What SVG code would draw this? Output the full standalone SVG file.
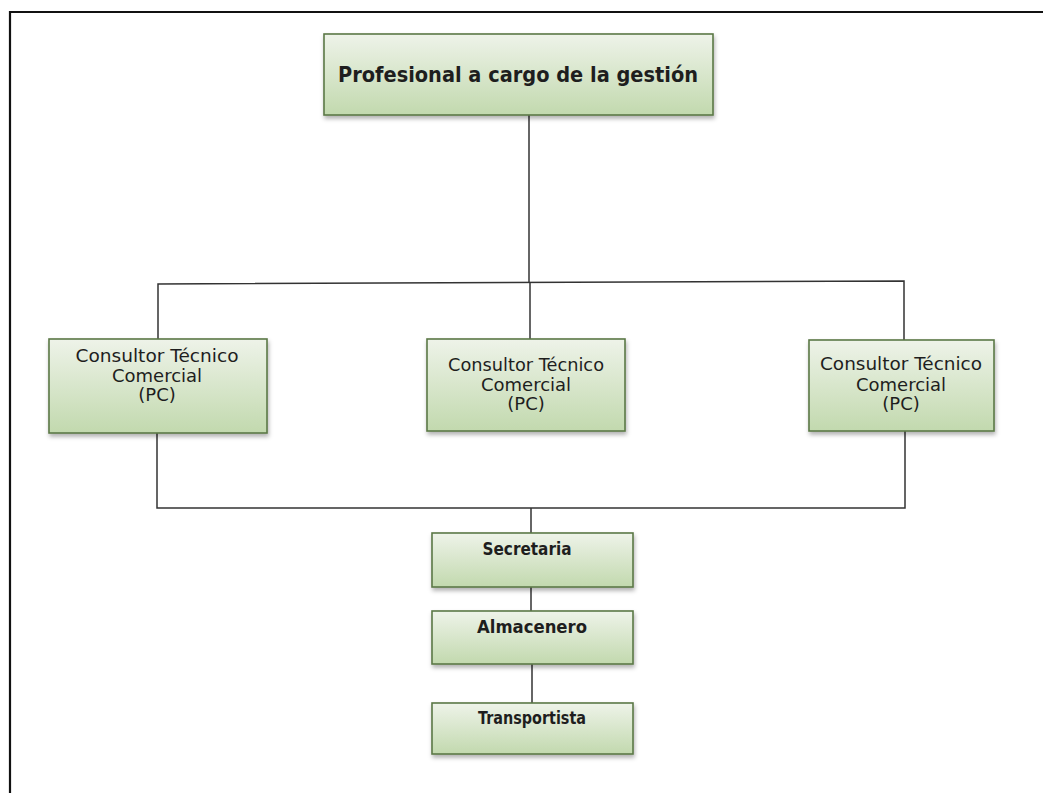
<svg xmlns="http://www.w3.org/2000/svg" width="1043" height="793" viewBox="0 0 1043 793">
  <defs>
    <linearGradient id="g" x1="0" y1="0" x2="0" y2="1">
      <stop offset="0" stop-color="#eef3e9"/>
      <stop offset="1" stop-color="#c2d9ae"/>
    </linearGradient>
    <filter id="sh" x="-10%" y="-10%" width="120%" height="130%">
      <feDropShadow dx="1" dy="3" stdDeviation="2" flood-color="#000" flood-opacity="0.3"/>
    </filter>
  </defs>
  <style>
    .box{fill:url(#g);stroke:#5b7846;stroke-width:1.6;filter:url(#sh)}
    .conn{fill:none;stroke:#333;stroke-width:1.5}
    .t{font-family:"DejaVu Sans","Liberation Sans",sans-serif;fill:#1e1e1e;text-anchor:middle}
    .b{font-weight:bold}
    .r{font-size:18px}
  </style>
  <rect x="0" y="0" width="1043" height="793" fill="#fff"/>
  <path d="M10 793 V12 H1043" fill="none" stroke="#111" stroke-width="2.2"/>

  <g id="connectors">
    <path class="conn" d="M529 115 V283"/>
    <path class="conn" d="M158 339 V284 L904 281 V340"/>
    <path class="conn" d="M530 282 V339"/>
    <path class="conn" d="M157 433 V508 H905 V431"/>
    <path class="conn" d="M531 508 V533"/>
    <path class="conn" d="M531 587 V611"/>
    <path class="conn" d="M532 664 V703"/>
  </g>

  <g id="n-profesional">
    <rect class="box" x="324" y="34" width="389" height="81"/>
    <text class="t b" x="518" y="82" font-size="22" textLength="360" lengthAdjust="spacingAndGlyphs">Profesional a cargo de la gestión</text>
  </g>

  <g id="n-consultor-1">
    <rect class="box" x="49" y="339" width="218" height="94"/>
    <text class="t r" x="157" y="362" textLength="163" lengthAdjust="spacingAndGlyphs">Consultor  Técnico</text>
    <text class="t r" x="157" y="382">Comercial</text>
    <text class="t r" x="157" y="401">(PC)</text>
  </g>

  <g id="n-consultor-2">
    <rect class="box" x="427" y="339" width="198" height="92"/>
    <text class="t r" x="526" y="371" textLength="156" lengthAdjust="spacingAndGlyphs">Consultor Técnico</text>
    <text class="t r" x="526" y="391">Comercial</text>
    <text class="t r" x="526" y="410">(PC)</text>
  </g>

  <g id="n-consultor-3">
    <rect class="box" x="809" y="340" width="185" height="91"/>
    <text class="t r" x="901" y="370" textLength="162" lengthAdjust="spacingAndGlyphs">Consultor  Técnico</text>
    <text class="t r" x="901" y="391">Comercial</text>
    <text class="t r" x="901" y="410">(PC)</text>
  </g>

  <g id="n-secretaria">
    <rect class="box" x="432" y="533" width="201" height="54"/>
    <text class="t b" x="527" y="555" font-size="18" textLength="89" lengthAdjust="spacingAndGlyphs">Secretaria</text>
  </g>

  <g id="n-almacenero">
    <rect class="box" x="432" y="611" width="201" height="53"/>
    <text class="t b" x="532" y="633" font-size="18" textLength="110" lengthAdjust="spacingAndGlyphs">Almacenero</text>
  </g>

  <g id="n-transportista">
    <rect class="box" x="432" y="703" width="201" height="51"/>
    <text class="t b" x="532" y="724" font-size="18" textLength="108" lengthAdjust="spacingAndGlyphs">Transportista</text>
  </g>
</svg>
